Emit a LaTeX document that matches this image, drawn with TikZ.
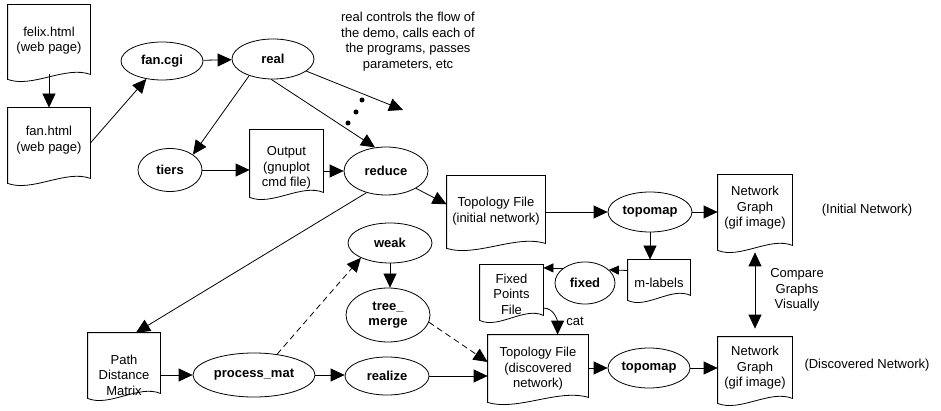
\documentclass[tikz,border=0pt]{standalone}
\usepackage{fontspec}
\setmainfont{Liberation Sans}
\usetikzlibrary{arrows.meta,shapes.geometric,calc}
\newcommand\docnode[7]{%
  \node[docbox, minimum width=#4, minimum height=#5] (#1) at (#2,#3) {};
  \node[txt] (#1-t) at (#2,#6) {#7};
  \draw[docline] (#1.north west) -- (#1.north east) -- (#1.south east)
    .. controls ($(#1.south east)+(-0.3*#4,-9)$) and ($(#1.south west)+(0.3*#4,14)$) .. ($(#1.south west)+(0,5)$) -- cycle;
}
\begin{document}
\begin{tikzpicture}[x=1pt,y=-1pt,
  font=\fontsize{13}{15.5}\selectfont,
  line width=0.8pt,
  >={Triangle[length=14pt,width=13pt]},
  prog/.style={ellipse, draw, inner sep=0pt, font=\fontsize{13}{15.5}\selectfont\bfseries, align=center},
  docbox/.style={rectangle, draw=none, inner sep=0pt},
  docline/.style={draw, line width=0.8pt},
  txt/.style={align=center, inner sep=0pt},
  small/.style={-{Triangle[length=10pt,width=9pt]}},
  dot/.style={circle, fill, inner sep=0pt, minimum size=5pt}
]
\path[use as bounding box] (0,0) rectangle (941,411);

% documents
\docnode{felix}{49}{39.5}{82}{69}{40.5}{felix.html\\(web page)}
\docnode{fanhtml}{49}{143}{82}{70}{140}{fan.html\\(web page)}
\docnode{output}{286.5}{161}{73}{62}{168}{Output\\(gnuplot\\cmd file)}
\docnode{topo1}{496}{209.5}{98}{67}{211}{Topology File\\(initial network)}
\docnode{ng1}{755}{210}{74}{70}{208}{Network\\Graph\\(gif image)}
\docnode{mlabels}{659}{277.5}{62}{35}{283}{m-labels}
\docnode{fpf}{511.5}{290}{63}{50}{294}{Fixed\\Points\\File}
\docnode{topo2}{538}{366}{100}{62}{369}{Topology File\\(discovered\\network)}
\docnode{ng2}{755}{367.5}{74}{61}{368}{Network\\Graph\\(gif image)}
\docnode{pdm}{124}{363}{72}{60}{375}{Path\\Distance\\Matrix}

% programs
\node[prog, minimum width=82, minimum height=38] (fancgi) at (162,61) {fan.cgi};
\node[prog, minimum width=82, minimum height=40] (real) at (273,59) {real};
\node[prog, minimum width=64, minimum height=43] (tiers) at (170,170) {tiers};
\node[prog, minimum width=84, minimum height=48] (reduce) at (386,171) {reduce};
\node[prog, minimum width=84, minimum height=40] (topomap1) at (650,212) {topomap};
\node[prog, minimum width=60, minimum height=42] (fixed) at (585,283) {fixed};
\node[prog, minimum width=84, minimum height=40] (weak) at (390,243) {weak};
\node[prog, minimum width=84, minimum height=54] (treemerge) at (388,315) {tree\_\\merge};
\node[prog, minimum width=84, minimum height=38] (realize) at (387,376) {realize};
\node[prog, minimum width=122, minimum height=44] (processmat) at (254,375) {process\_mat};
\node[prog, minimum width=82, minimum height=40] (topomap2) at (649,368) {topomap};

% free texts
\node[txt] (note) at (408,41.5) {real controls the flow of\\the demo, calls each of\\the programs, passes\\parameters, etc};
\node[txt] (initnet) at (867,210) {(Initial Network)};
\node[txt] (discnet) at (867,365) {(Discovered Network)};
\node[txt] (compare) at (797,290) {Compare\\Graphs\\Visually};

% dots
\node[dot] (d1) at (362,100) {};
\node[dot] (d2) at (356,112) {};
\node[dot] (d3) at (348,123) {};
\coordinate (rend) at (403,110);

% connectors
\draw[->] (felix) -- (fanhtml);
\draw[->] (fanhtml.east) -- (fancgi);
\draw[->] (fancgi) -- (real);
\draw[->] (real.215) -- (tiers.34);
\draw[->] (real.265) -- (reduce.115);
\draw[->] (real.-20) -- (rend);
\draw[->] (tiers.east) -- (tiers.east -| output.west);
\draw[->] (reduce.west -| output.east) -- (reduce.west);
\draw[->] (reduce.-30) -- (topo1.174);
\draw[->] (reduce.228) -- ([xshift=12pt]pdm.north);
\draw[->] (topomap1.west -| topo1.east) -- (topomap1.west);
\draw[->] (topomap1.east) -- (topomap1.east -| ng1.west);
\draw[->] (topomap1.south) -- (topomap1.south |- mlabels.north);
\draw[small] ([yshift=7pt]mlabels.west) -- (fixed.29);
\draw[small] (fixed.145) -- (fixed.145 -| fpf.east);
\draw[->] ([yshift=-18pt]fpf.east) to[out=0,in=90] ($(topo2.north west)+(70,0)$);
\node[txt, anchor=west] (catlbl) at (566,321) {cat};
\draw[->] (processmat.west -| pdm.east) -- (processmat.west);
\draw[->, dashed, dash pattern=on 6pt off 4pt] (processmat.42) -- (weak.207);
\draw[->] (weak.south) -- (weak.south |- treemerge.north);
\draw[->] (processmat.east) -- (processmat.east -| realize.west);
\draw[->, dashed, dash pattern=on 6pt off 4pt] (treemerge.-10) -- ([yshift=4pt]topo2.west);
\draw[->] (realize.east) -- (realize.east -| topo2.west);
\draw[->] (topomap2.west -| topo2.east) -- (topomap2.west);
\draw[->] (topomap2.east) -- (topomap2.east -| ng2.west);
\draw[<->, shorten <=7pt, shorten >=8pt] (ng1.south) -- (ng2.north);
\end{tikzpicture}
\end{document}
